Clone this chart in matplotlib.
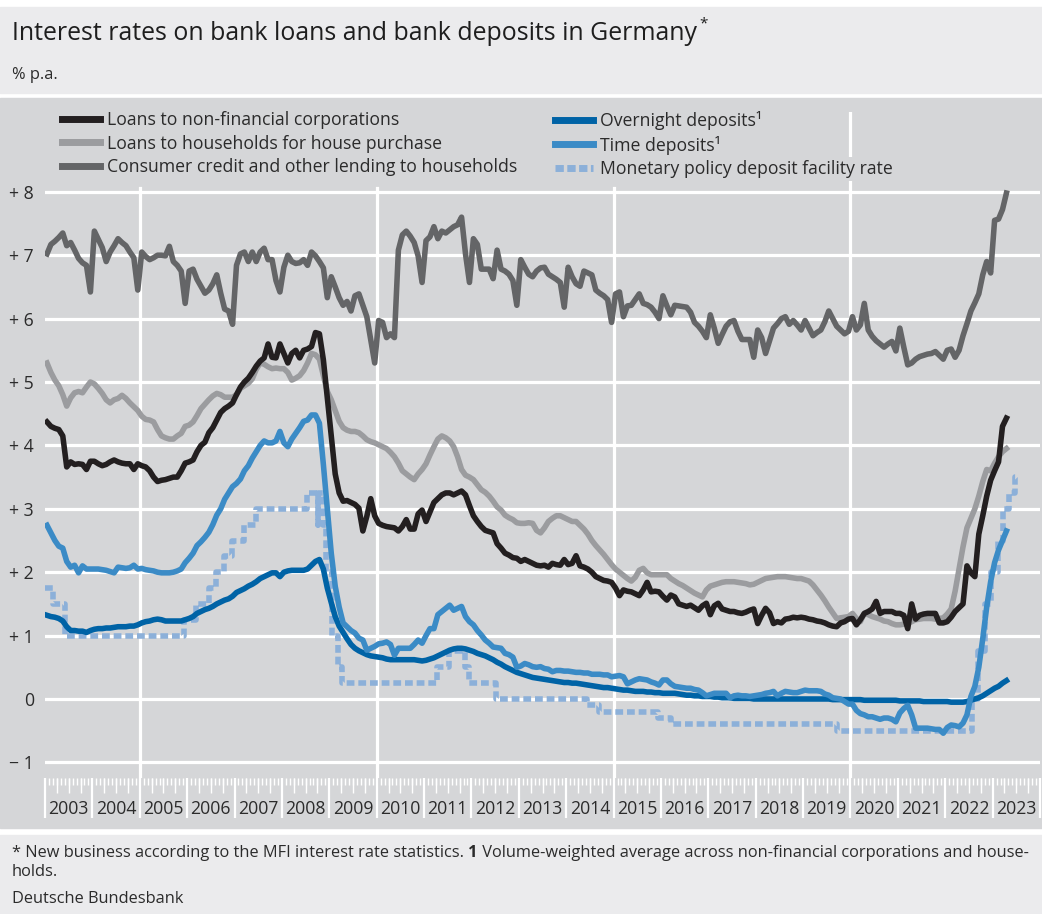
import numpy as np
import matplotlib.pyplot as plt
import matplotlib.patches as mpatches
from matplotlib.lines import Line2D
from datetime import date

plt.rcParams['font.family'] = ['Open Sans', 'DejaVu Sans']

# monthly values, Jan 2003 - Apr 2023, % p.a.
nfc_loans = [
    4.37, 4.30, 4.27, 4.25, 4.15, 3.66, 3.74, 3.70, 3.71, 3.70, 3.62, 3.75,
    3.75, 3.71, 3.68, 3.70, 3.74, 3.77, 3.74, 3.72, 3.71, 3.71, 3.62, 3.71,
    3.68, 3.66, 3.60, 3.50, 3.43, 3.45, 3.46, 3.48, 3.50, 3.50, 3.60, 3.72,
    3.74, 3.77, 3.90, 4.00, 4.05, 4.20, 4.28, 4.40, 4.52, 4.58, 4.62, 4.67,
    4.80, 4.92, 5.00, 5.06, 5.15, 5.25, 5.33, 5.38, 5.60, 5.39, 5.38, 5.60,
    5.45, 5.30, 5.45, 5.50, 5.38, 5.50, 5.52, 5.56, 5.78, 5.76, 5.35, 4.75,
    4.15, 3.55, 3.25, 3.12, 3.13, 3.10, 3.07, 3.01, 2.65, 2.88, 3.16, 2.89,
    2.77, 2.74, 2.72, 2.71, 2.70, 2.65, 2.72, 2.83, 2.68, 2.68, 2.92, 2.98,
    2.80, 2.95, 3.10, 3.16, 3.22, 3.25, 3.25, 3.22, 3.25, 3.28, 3.22, 3.05,
    2.89, 2.80, 2.72, 2.66, 2.64, 2.62, 2.45, 2.38, 2.30, 2.27, 2.23, 2.22,
    2.17, 2.20, 2.17, 2.14, 2.11, 2.10, 2.11, 2.08, 2.14, 2.12, 2.11, 2.20,
    2.12, 2.14, 2.26, 2.10, 2.08, 2.05, 2.00, 1.93, 1.90, 1.87, 1.86, 1.84,
    1.75, 1.63, 1.72, 1.70, 1.69, 1.66, 1.63, 1.72, 1.84, 1.69, 1.70, 1.69,
    1.62, 1.56, 1.64, 1.61, 1.50, 1.48, 1.46, 1.48, 1.44, 1.40, 1.47, 1.51,
    1.33, 1.47, 1.51, 1.42, 1.40, 1.38, 1.38, 1.36, 1.35, 1.37, 1.40, 1.42,
    1.19, 1.32, 1.43, 1.36, 1.19, 1.22, 1.20, 1.26, 1.27, 1.29, 1.28, 1.29,
    1.28, 1.26, 1.25, 1.23, 1.22, 1.20, 1.17, 1.15, 1.14, 1.20, 1.22, 1.26,
    1.27, 1.17, 1.25, 1.35, 1.38, 1.42, 1.54, 1.35, 1.38, 1.38, 1.38, 1.35,
    1.35, 1.32, 1.11, 1.50, 1.26, 1.32, 1.34, 1.35, 1.35, 1.35, 1.20, 1.20,
    1.22, 1.29, 1.38, 1.44, 1.50, 2.10, 1.99, 1.93, 2.60, 2.89, 3.20, 3.45,
    3.60, 3.74, 4.30, 4.43,
]

house_loans = [
    5.30, 5.15, 5.03, 4.94, 4.80, 4.62, 4.75, 4.83, 4.85, 4.83, 4.92, 5.00,
    4.97, 4.90, 4.82, 4.72, 4.67, 4.72, 4.74, 4.79, 4.74, 4.67, 4.61, 4.55,
    4.46, 4.41, 4.40, 4.37, 4.25, 4.15, 4.12, 4.10, 4.10, 4.15, 4.19, 4.30,
    4.32, 4.37, 4.47, 4.58, 4.65, 4.72, 4.78, 4.82, 4.80, 4.76, 4.76, 4.76,
    4.80, 4.90, 4.94, 4.98, 5.05, 5.20, 5.30, 5.28, 5.24, 5.21, 5.22, 5.21,
    5.21, 5.15, 5.03, 5.06, 5.10, 5.18, 5.30, 5.45, 5.43, 5.36, 5.10, 4.85,
    4.72, 4.55, 4.38, 4.28, 4.24, 4.22, 4.22, 4.20, 4.15, 4.09, 4.06, 4.04,
    4.01, 3.98, 3.95, 3.89, 3.82, 3.72, 3.60, 3.55, 3.50, 3.46, 3.55, 3.62,
    3.71, 3.85, 3.98, 4.10, 4.15, 4.12, 4.07, 3.98, 3.82, 3.62, 3.53, 3.50,
    3.46, 3.38, 3.30, 3.26, 3.20, 3.12, 3.03, 2.98, 2.90, 2.86, 2.83, 2.78,
    2.77, 2.77, 2.78, 2.77, 2.66, 2.62, 2.70, 2.80, 2.85, 2.89, 2.89, 2.86,
    2.83, 2.80, 2.80, 2.74, 2.68, 2.60, 2.50, 2.42, 2.35, 2.28, 2.20, 2.12,
    2.05, 2.00, 1.95, 1.90, 1.86, 1.92, 2.03, 2.06, 1.99, 1.96, 1.96, 1.96,
    1.96, 1.96, 1.90, 1.86, 1.82, 1.79, 1.75, 1.71, 1.67, 1.64, 1.61, 1.72,
    1.78, 1.80, 1.82, 1.84, 1.85, 1.85, 1.85, 1.84, 1.83, 1.82, 1.80, 1.81,
    1.84, 1.87, 1.90, 1.91, 1.92, 1.93, 1.93, 1.93, 1.92, 1.91, 1.90, 1.90,
    1.88, 1.86, 1.80, 1.72, 1.64, 1.55, 1.45, 1.36, 1.27, 1.28, 1.29, 1.30,
    1.35, 1.27, 1.22, 1.35, 1.33, 1.30, 1.28, 1.26, 1.23, 1.22, 1.19, 1.17,
    1.17, 1.18, 1.19, 1.22, 1.25, 1.26, 1.27, 1.27, 1.27, 1.26, 1.27, 1.28,
    1.34, 1.42, 1.70, 2.05, 2.40, 2.70, 2.85, 3.00, 3.20, 3.43, 3.62, 3.60,
    3.72, 3.82, 3.90, 3.95,
]

consumer_credit = [
    7.02, 7.17, 7.22, 7.28, 7.35, 7.15, 7.20, 7.08, 6.95, 6.88, 6.84, 6.42,
    7.38, 7.25, 7.12, 6.90, 7.05, 7.15, 7.26, 7.20, 7.15, 7.05, 6.96, 6.45,
    7.05, 6.98, 6.93, 6.96, 7.00, 7.00, 6.99, 7.14, 6.90, 6.84, 6.75, 6.24,
    6.75, 6.78, 6.62, 6.51, 6.40, 6.45, 6.55, 6.69, 6.40, 6.15, 6.12, 5.91,
    6.84, 7.02, 7.05, 6.90, 7.05, 6.90, 7.05, 7.11, 6.93, 6.93, 6.60, 6.42,
    6.81, 7.00, 6.90, 6.87, 6.88, 6.93, 6.84, 7.05, 6.99, 6.90, 6.80, 6.33,
    6.66, 6.50, 6.33, 6.21, 6.27, 6.12, 6.36, 6.39, 6.21, 6.03, 5.67, 5.30,
    5.97, 5.94, 5.70, 5.76, 5.70, 7.08, 7.32, 7.38, 7.30, 7.20, 6.99, 6.57,
    7.23, 7.29, 7.45, 7.26, 7.38, 7.35, 7.40, 7.45, 7.48, 7.60, 7.02, 6.57,
    7.26, 7.17, 6.78, 6.78, 6.78, 6.63, 7.08, 6.78, 6.75, 6.70, 6.60, 6.21,
    6.93, 6.81, 6.70, 6.66, 6.75, 6.80, 6.81, 6.70, 6.66, 6.62, 6.57, 6.18,
    6.81, 6.66, 6.55, 6.51, 6.75, 6.72, 6.69, 6.45, 6.40, 6.36, 6.30, 5.94,
    6.39, 6.42, 6.03, 6.20, 6.21, 6.30, 6.39, 6.24, 6.22, 6.18, 6.10, 6.00,
    6.36, 6.20, 6.06, 6.21, 6.20, 6.19, 6.18, 6.10, 5.94, 5.88, 5.80, 5.70,
    6.06, 5.85, 5.61, 5.75, 5.88, 5.95, 5.97, 5.80, 5.67, 5.67, 5.67, 5.39,
    5.82, 5.70, 5.45, 5.65, 5.85, 5.92, 6.00, 6.03, 5.91, 5.97, 5.90, 5.82,
    5.97, 5.85, 5.73, 5.78, 5.82, 5.95, 6.12, 6.00, 5.88, 5.82, 5.76, 5.80,
    6.03, 5.82, 5.90, 6.24, 5.82, 5.72, 5.65, 5.60, 5.55, 5.60, 5.64, 5.49,
    5.85, 5.55, 5.27, 5.30, 5.36, 5.40, 5.42, 5.44, 5.45, 5.48, 5.42, 5.36,
    5.50, 5.52, 5.39, 5.50, 5.73, 5.92, 6.12, 6.25, 6.39, 6.69, 6.90, 6.72,
    7.55, 7.57, 7.72, 7.98,
]

overnight_dep = [
    1.32, 1.30, 1.29, 1.27, 1.23, 1.14, 1.08, 1.08, 1.07, 1.07, 1.05, 1.08,
    1.10, 1.11, 1.11, 1.12, 1.12, 1.13, 1.14, 1.14, 1.14, 1.15, 1.15, 1.17,
    1.20, 1.22, 1.23, 1.25, 1.26, 1.25, 1.23, 1.23, 1.23, 1.23, 1.23, 1.25,
    1.27, 1.30, 1.35, 1.38, 1.41, 1.43, 1.46, 1.50, 1.53, 1.56, 1.58, 1.62,
    1.68, 1.71, 1.74, 1.78, 1.81, 1.85, 1.90, 1.93, 1.96, 1.99, 1.99, 1.93,
    2.00, 2.02, 2.03, 2.03, 2.03, 2.03, 2.05, 2.11, 2.17, 2.20, 2.05, 1.75,
    1.52, 1.30, 1.15, 1.05, 0.95, 0.86, 0.80, 0.76, 0.73, 0.70, 0.68, 0.67,
    0.66, 0.65, 0.63, 0.62, 0.62, 0.62, 0.62, 0.62, 0.62, 0.62, 0.61, 0.60,
    0.61, 0.63, 0.65, 0.68, 0.71, 0.74, 0.77, 0.79, 0.80, 0.80, 0.79, 0.77,
    0.75, 0.72, 0.70, 0.68, 0.65, 0.62, 0.58, 0.55, 0.51, 0.48, 0.45, 0.42,
    0.40, 0.38, 0.36, 0.34, 0.33, 0.32, 0.31, 0.30, 0.29, 0.28, 0.27, 0.26,
    0.26, 0.25, 0.25, 0.24, 0.23, 0.22, 0.21, 0.20, 0.19, 0.18, 0.18, 0.17,
    0.16, 0.15, 0.14, 0.14, 0.13, 0.12, 0.12, 0.12, 0.11, 0.11, 0.10, 0.10,
    0.09, 0.09, 0.09, 0.09, 0.08, 0.07, 0.06, 0.06, 0.05, 0.05, 0.04, 0.04,
    0.04, 0.03, 0.03, 0.02, 0.02, 0.02, 0.01, 0.01, 0.01, 0.01, 0.01, 0.00,
    0.00, 0.00, 0.00, 0.00, 0.00, 0.00, 0.00, 0.00, 0.00, 0.00, 0.00, 0.00,
    0.00, 0.00, 0.00, 0.00, 0.00, 0.00, 0.00, -0.01, -0.01, -0.01, -0.01, -0.01,
    -0.01, -0.01, -0.01, -0.02, -0.02, -0.02, -0.02, -0.02, -0.02, -0.02, -0.02, -0.02,
    -0.03, -0.03, -0.03, -0.03, -0.03, -0.03, -0.04, -0.04, -0.04, -0.04, -0.04, -0.04,
    -0.04, -0.05, -0.05, -0.05, -0.05, -0.04, -0.02, 0.00, 0.02, 0.05, 0.09, 0.13,
    0.17, 0.20, 0.25, 0.29,
]

time_dep = [
    2.74, 2.62, 2.50, 2.41, 2.38, 2.17, 2.08, 2.11, 1.99, 2.10, 2.05, 2.05,
    2.05, 2.05, 2.04, 2.03, 2.01, 1.99, 2.08, 2.07, 2.06, 2.07, 2.11, 2.05,
    2.06, 2.04, 2.03, 2.02, 2.00, 1.99, 1.99, 1.99, 2.00, 2.02, 2.05, 2.15,
    2.22, 2.30, 2.42, 2.48, 2.55, 2.63, 2.75, 2.90, 3.00, 3.15, 3.25, 3.35,
    3.40, 3.47, 3.60, 3.68, 3.80, 3.90, 4.00, 4.07, 4.04, 4.04, 4.07, 4.22,
    4.04, 3.98, 4.10, 4.19, 4.28, 4.38, 4.40, 4.48, 4.48, 4.35, 3.70, 3.00,
    2.30, 1.78, 1.45, 1.20, 1.14, 1.08, 1.04, 0.96, 0.93, 0.77, 0.80, 0.83,
    0.87, 0.88, 0.90, 0.86, 0.69, 0.80, 0.80, 0.80, 0.80, 0.86, 0.93, 0.88,
    1.00, 1.11, 1.11, 1.33, 1.38, 1.43, 1.48, 1.40, 1.43, 1.46, 1.30, 1.22,
    1.17, 1.08, 1.01, 0.93, 0.88, 0.82, 0.81, 0.80, 0.72, 0.70, 0.66, 0.50,
    0.52, 0.56, 0.54, 0.51, 0.50, 0.51, 0.48, 0.47, 0.43, 0.45, 0.45, 0.44,
    0.44, 0.43, 0.42, 0.42, 0.41, 0.41, 0.39, 0.39, 0.39, 0.38, 0.38, 0.35,
    0.36, 0.37, 0.35, 0.24, 0.27, 0.30, 0.32, 0.31, 0.30, 0.27, 0.25, 0.22,
    0.30, 0.30, 0.24, 0.20, 0.19, 0.18, 0.17, 0.17, 0.15, 0.14, 0.10, 0.05,
    0.07, 0.09, 0.09, 0.09, 0.09, 0.02, 0.05, 0.06, 0.05, 0.05, 0.04, 0.05,
    0.06, 0.07, 0.09, 0.10, 0.12, 0.05, 0.09, 0.12, 0.11, 0.10, 0.10, 0.12,
    0.14, 0.13, 0.13, 0.13, 0.12, 0.08, 0.06, 0.02, 0.01, 0.00, -0.04, -0.08,
    -0.08, -0.18, -0.23, -0.25, -0.28, -0.28, -0.30, -0.32, -0.30, -0.30, -0.32, -0.36,
    -0.22, -0.15, -0.10, -0.25, -0.46, -0.46, -0.46, -0.46, -0.47, -0.48, -0.48, -0.54,
    -0.45, -0.41, -0.42, -0.44, -0.38, -0.25, 0.04, 0.20, 0.50, 0.95, 1.45, 1.85,
    2.15, 2.35, 2.50, 2.65,
]

# ECB deposit facility rate: date of change, new rate
dfr_dates = [
    '2003-01-01', '2003-03-07', '2003-06-06', '2005-12-06', '2006-03-08',
    '2006-06-15', '2006-08-09', '2006-10-11', '2006-12-13', '2007-03-14',
    '2007-06-13', '2008-07-09', '2008-10-08', '2008-10-09', '2008-11-12',
    '2008-12-10', '2009-01-21', '2009-03-11', '2009-04-08', '2011-04-13',
    '2011-07-13', '2011-11-09', '2011-12-14', '2012-07-11', '2014-06-11',
    '2014-09-10', '2015-12-09', '2016-03-16', '2019-09-18', '2022-07-27',
    '2022-09-14', '2022-11-02', '2022-12-21', '2023-02-08', '2023-03-22',
    '2023-05-10', '2023-06-21', '2023-06-30',
]
dfr_rates = [
    1.75, 1.50, 1.00, 1.25, 1.50, 1.75, 2.00, 2.25, 2.50, 2.75,
    3.00, 3.25, 2.75, 3.25, 2.75, 2.00, 1.00, 0.50, 0.25, 0.50,
    0.75, 0.50, 0.25, 0.00, -0.10, -0.20, -0.30, -0.40, -0.50, 0.00,
    0.75, 1.50, 2.00, 2.50, 3.00, 3.25, 3.50, 3.50,
]

years = list(range(2003, 2024))
series_labels = [
    'Loans to non-financial corporations',
    'Loans to households for house purchase',
    'Consumer credit and other lending to households',
    'Overnight deposits\u00b9',
    'Time deposits\u00b9',
    'Monetary policy deposit facility rate',
]


def frac_year(s):
    d = date.fromisoformat(s)
    y0 = date(d.year, 1, 1)
    y1 = date(d.year + 1, 1, 1)
    return d.year + (d - y0).days / (y1 - y0).days


t = 2003 + (np.arange(len(nfc_loans)) + 0.5) / 12
t_dfr = [frac_year(s) for s in dfr_dates]

W, H = 1042, 914
panel = '#d5d6d8'
light = '#ebebed'
txt = '#2b2b2b'

fig = plt.figure(figsize=(W / 100, H / 100), dpi=100)


def band(top, bottom, color):
    fig.patches.append(mpatches.Rectangle((0, 1 - bottom / H), 1, (bottom - top) / H,
                                          transform=fig.transFigure, color=color, zorder=-10))


band(7, 93, light)
band(98, 828, panel)
band(835, 914, light)

# pixel geometry of the plot area
px_top, px_bot, px_left, px_right = 112, 778, 45, 1040
y0_px, unit_px = 699, 63.4

ax = fig.add_axes([px_left / W, 1 - px_bot / H, (px_right - px_left) / W, (px_bot - px_top) / H])
ax.set_facecolor(panel)
ax.set_xlim(2003, 2024)
ax.set_ylim((y0_px - px_bot) / unit_px, (y0_px - px_top) / unit_px)
for s in ax.spines.values():
    s.set_visible(False)

for v in range(-1, 9):
    ax.axhline(v, color='white', lw=2.3, zorder=1)
ytop_short = (px_bot - 188) / (px_bot - px_top)
for yr in (2005, 2010, 2015):
    ax.axvline(yr, ymax=ytop_short, color='white', lw=2.3, zorder=1)
ax.axvline(2020, color='white', lw=2.3, zorder=1)

lw = 4.0
c_nfc, c_house, c_cons = '#231f20', '#9b9c9f', '#646567'
c_over, c_time, c_dfr = '#0063a6', '#3b8bc6', '#8cb0d9'
dfr_dash = (1.4, 0.7)

ax.plot(t_dfr, dfr_rates, drawstyle='steps-post', color=c_dfr, lw=lw,
        dashes=dfr_dash, zorder=2)
ax.plot(t, overnight_dep, color=c_over, lw=lw, zorder=3)
ax.plot(t, time_dep, color=c_time, lw=lw, zorder=4)
ax.plot(t, house_loans, color=c_house, lw=lw, zorder=5)
ax.plot(t, consumer_credit, color=c_cons, lw=lw, zorder=6)
ax.plot(t, nfc_loans, color=c_nfc, lw=lw, zorder=7)

# y axis labels
ylabs = []
for v in range(-1, 9):
    ylabs.append('0' if v == 0 else ('+ %d' % v if v > 0 else '\u2212 %d' % -v))
ax.set_yticks(range(-1, 9))
ax.set_yticklabels(ylabs)
ax.tick_params(axis='y', length=0, pad=8, labelsize=12.7, labelcolor=txt)

# x ticks: long at year boundaries, short monthly
ax.set_xticks(np.arange(2003, 2025))
ax.set_xticks(2003 + np.arange(0, 21 * 12 + 1) / 12, minor=True)
ax.tick_params(axis='x', which='major', length=29, width=1.6, color='white', labelbottom=False)
ax.tick_params(axis='x', which='minor', length=5, width=1.0, color='white')

mid = ax.secondary_xaxis('bottom')
mid.spines['bottom'].set_visible(False)
mid.set_xticks([y + q / 4 for y in years for q in (1, 2, 3)])
mid.tick_params(length=11, width=1.0, color='white', labelbottom=False)

lab = ax.secondary_xaxis('bottom')
lab.spines['bottom'].set_visible(False)
lab.set_xticks([y + 0.5 for y in years])
lab.set_xticklabels([str(y) for y in years])
lab.tick_params(length=0, pad=16, labelsize=12.7, labelcolor=txt)

# legends
hl = 5.0
h_left = [Line2D([], [], color=c, lw=hl) for c in (c_nfc, c_house, c_cons)]
h_right = [Line2D([], [], color=c_over, lw=hl), Line2D([], [], color=c_time, lw=hl),
           Line2D([], [], color=c_dfr, lw=hl, dashes=(1.2, 0.5))]
leg_kw = dict(loc='upper left', bbox_transform=fig.transFigure, frameon=False,
              borderpad=0, borderaxespad=0, fontsize=12.7, handlelength=2.15,
              handletextpad=0.4, labelspacing=0.32, labelcolor=txt)
leg1 = ax.legend(h_left, series_labels[:3], bbox_to_anchor=(62 / W, 1 - 111 / H), **leg_kw)
ax.add_artist(leg1)
leg2 = ax.legend(h_right, series_labels[3:], bbox_to_anchor=(555 / W, 1 - 111 / H), **leg_kw)
for leg in (leg1, leg2):
    leg.set_zorder(20)
    for tx in leg.get_texts():
        tx.set_bbox(dict(facecolor=panel, edgecolor='none', pad=2))

# header and footer texts
r = fig.canvas.get_renderer()
title = fig.text(12 / W, 1 - 34 / H, 'Interest rates on bank loans and bank deposits in Germany',
                 fontsize=17.9, color='#1e1e1e', va='center')
bb = title.get_window_extent(renderer=r)
fig.text((bb.x1 + 2) / W, 1 - 24 / H, '*', fontsize=11, color='#1e1e1e', va='center')
fig.text(12 / W, 1 - 75 / H, '% p.a.', fontsize=11.8, color=txt, va='center')


def text_row(x, y, pieces, size=11.8):
    for s, wt in pieces:
        tx = fig.text(x / W, 1 - y / H, s, fontsize=size, fontweight=wt, color=txt, va='center')
        x += tx.get_window_extent(renderer=r).width


text_row(12, 853, [('* New business according to the MFI interest rate statistics. ', 'normal'),
                   ('1', 'bold'),
                   (' Volume-weighted average across non-financial corporations and house-', 'normal')])
text_row(12, 872, [('holds.', 'normal')])
text_row(12, 899, [('Deutsche Bundesbank', 'normal')])

fig.savefig('out.png', dpi=100, facecolor='white')
